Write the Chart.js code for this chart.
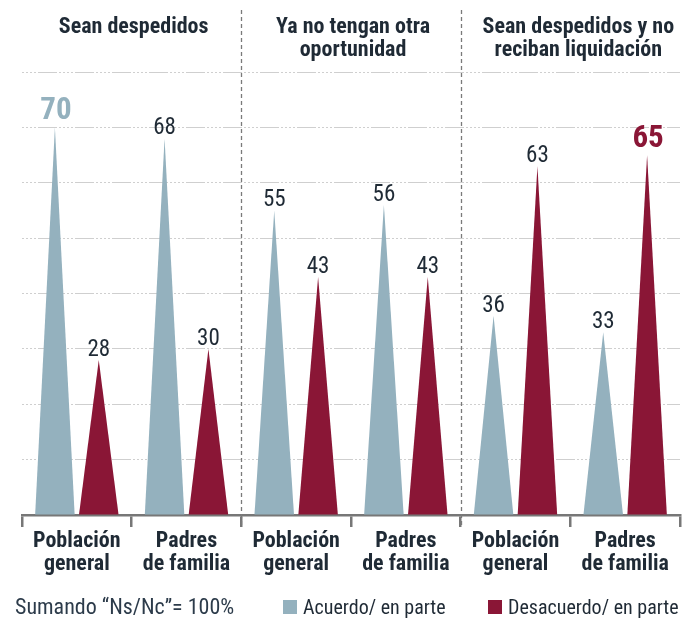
<!DOCTYPE html>
<html>
<head>
<meta charset="utf-8">
<script src="https://cdn.jsdelivr.net/npm/chart.js@4"></script>
<style>
  html, body { margin: 0; padding: 0; background: #fff; }
  #wrap { width: 694px; height: 621px; }
</style>
</head>
<body>
<div id="wrap"><canvas id="c" width="694" height="621"></canvas></div>
<script>
const categories = [
  ["Población", "general"], ["Padres", "de familia"],
  ["Población", "general"], ["Padres", "de familia"],
  ["Población", "general"], ["Padres", "de familia"]
];
const panelTitles = [
  ["Sean despedidos"],
  ["Ya no tengan otra", "oportunidad"],
  ["Sean despedidos y no", "reciban liquidación"]
];
const seriesNames = ["Acuerdo/ en parte", "Desacuerdo/ en parte"];
const acuerdo = [70, 68, 55, 56, 36, 33];
const desacuerdo = [28, 30, 43, 43, 63, 65];
const footNote = "Sumando “Ns/Nc”= 100%";
const yTicks = [0, 10, 20, 30, 40, 50, 60, 70, 80];

const FONT = "'Liberation Sans Narrow', 'Roboto Condensed', 'DejaVu Sans Condensed', 'Arial Narrow', sans-serif";
const BLUE = '#94b1be';
const RED = '#8a1636';
const DARK = '#1f2a35';

const trianglePlugin = {
  id: 'triangles',
  beforeDatasetDraw(chart, args) {
    const ctx = chart.ctx;
    const meta = args.meta;
    const ds = chart.data.datasets[args.index];
    ctx.save();
    ctx.fillStyle = ds.backgroundColor;
    meta.data.forEach(bar => {
      const p = bar.getProps(['x', 'y', 'base', 'width'], true);
      ctx.beginPath();
      ctx.moveTo(p.x - p.width / 2, p.base);
      ctx.lineTo(p.x, p.y);
      ctx.lineTo(p.x + p.width / 2, p.base);
      ctx.closePath();
      ctx.fill();
    });
    ctx.restore();
    return false;
  },
  afterDatasetsDraw(chart) {
    const ctx = chart.ctx;
    const xs = chart.scales.x;
    const area = chart.chartArea;
    ctx.save();
    // separators between panels
    ctx.strokeStyle = '#7a7a7a';
    ctx.lineWidth = 1.3;
    ctx.setLineDash([4, 3]);
    [2, 4].forEach(i => {
      const x = Math.round((xs.getPixelForValue(i - 1) + xs.getPixelForValue(i)) / 2) + 0.5;
      ctx.beginPath();
      ctx.moveTo(x, 10);
      ctx.lineTo(x, area.bottom + 12);
      ctx.stroke();
    });
    ctx.setLineDash([]);
    // value labels
    chart.data.datasets.forEach((ds, di) => {
      const meta = chart.getDatasetMeta(di);
      const mx = Math.max(...ds.data);
      meta.data.forEach((bar, i) => {
        const v = ds.data[i];
        ctx.textAlign = 'center';
        ctx.textBaseline = 'alphabetic';
        if (v === mx) {
          ctx.font = 'bold 31px ' + FONT;
          ctx.fillStyle = ds.backgroundColor;
          ctx.fillText(String(v), bar.x + 1, bar.y - 8);
        } else {
          ctx.font = '23px ' + FONT;
          ctx.fillStyle = DARK;
          ctx.fillText(String(v), bar.x, bar.y - 4);
        }
      });
    });
    // panel titles
    ctx.font = 'bold 22px ' + FONT;
    ctx.fillStyle = DARK;
    ctx.textAlign = 'center';
    panelTitles.forEach((lines, p) => {
      const left = xs.getPixelForValue(p * 2) - (xs.getPixelForValue(1) - xs.getPixelForValue(0)) / 2;
      const right = xs.getPixelForValue(p * 2 + 1) + (xs.getPixelForValue(1) - xs.getPixelForValue(0)) / 2;
      const cx = (left + right) / 2 + (p === 2 ? 8 : 2);
      lines.forEach((t, li) => ctx.fillText(t, cx, 33 + li * 23));
    });
    // footnote
    ctx.font = '22px ' + FONT;
    ctx.fillStyle = '#2c3b4a';
    ctx.textAlign = 'left';
    ctx.fillText(footNote, 15, 614);
    // legend
    ctx.font = '20px ' + FONT;
    const legendX = [283, 488];
    chart.data.datasets.forEach((ds, di) => {
      ctx.fillStyle = ds.backgroundColor;
      ctx.fillRect(legendX[di], 600, 14, 14);
      ctx.fillStyle = DARK;
      ctx.fillText(ds.label, legendX[di] + 20, 614);
    });
    ctx.restore();
  }
};

new Chart(document.getElementById('c'), {
  type: 'bar',
  data: {
    labels: categories,
    datasets: [
      { label: seriesNames[0], data: acuerdo, backgroundColor: BLUE },
      { label: seriesNames[1], data: desacuerdo, backgroundColor: RED }
    ]
  },
  options: {
    responsive: false,
    devicePixelRatio: 1,
    animation: false,
    layout: { padding: { left: 22, right: 14, top: 72, bottom: 0 } },
    plugins: { legend: { display: false }, tooltip: { enabled: false } },
    datasets: { bar: { categoryPercentage: 0.8, barPercentage: 0.9 } },
    scales: {
      x: {
        afterFit: s => { s.height = 106; },
        grid: { offset: true, drawOnChartArea: false, drawTicks: true, tickLength: 12, color: '#777', lineWidth: 2.5 },
        border: { display: true, color: '#777', width: 2.5 },
        ticks: { color: DARK, padding: 3, font: { family: FONT, size: 22, weight: 'bold', lineHeight: 1.05 } }
      },
      y: {
        min: 0, max: 80,
        afterFit: s => { s.width = 0; },
        afterBuildTicks: s => { s.ticks = yTicks.map(v => ({ value: v })); },
        ticks: { display: false },
        border: { display: false, dash: [2, 2, 2, 2, 2, 2, 2, 2, 19, 2] },
        grid: { drawTicks: false, color: '#cfcfcf', lineWidth: 1 }
      }
    }
  },
  plugins: [trianglePlugin]
});
</script>
</body>
</html>
